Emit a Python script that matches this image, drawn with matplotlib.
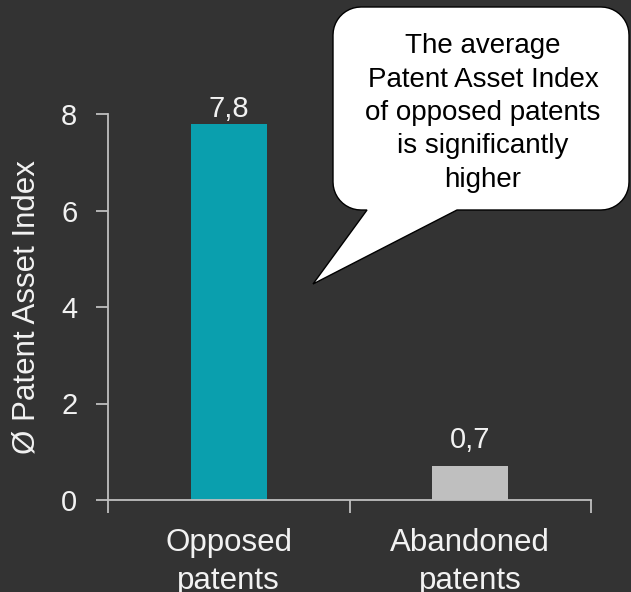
import numpy as np
import matplotlib
matplotlib.use("Agg")
import matplotlib.pyplot as plt
from matplotlib.path import Path
from matplotlib.patches import PathPatch

plt.rcParams['font.family'] = ['Liberation Sans', 'DejaVu Sans']

# data
categories = ["Opposed\npatents", "Abandoned\npatents"]
values = [7.8, 0.7]
value_labels = ["7,8", "0,7"]
bar_colors = ["#0A9FAE", "#BFBFBF"]
y_ticks = [0, 2, 4, 6, 8]
callout_text = "The average\nPatent Asset Index\nof opposed patents\nis significantly\nhigher"

W, H = 631, 592
bg = "#333333"
axis_col = "#BFBFBF"
txt_col = "#F2F2F2"

fig = plt.figure(figsize=(W / 100, H / 100), dpi=100, facecolor=bg)
ax = fig.add_axes([108 / W, 1 - 500 / H, (591 - 108) / W, (500 - 114) / H])
ax.set_facecolor(bg)

x = np.arange(len(values))
ax.bar(x, values, width=0.315, color=bar_colors, zorder=2)

# value labels, kept inside the plot area at the top
for xi, v, lab in zip(x, values, value_labels):
    ypos = min(v + 0.38, 7.93)
    ax.text(xi, ypos, lab, ha="center", va="baseline", fontsize=21, color=txt_col)

ax.set_xlim(-0.5, len(values) - 0.5)
ax.set_ylim(0, 8)
ax.set_yticks(y_ticks)
ax.set_yticklabels([str(t) for t in y_ticks])

# ticks at category boundaries, labels at centres
ax.set_xticks(np.arange(len(values) + 1) - 0.5)
ax.set_xticklabels([])
ax.set_xticks(x, minor=True)
ax.set_xticklabels(categories, minor=True, fontsize=22.5, color=txt_col, linespacing=1.35)
ax.tick_params(axis="x", which="minor", length=0, pad=20)
ax.tick_params(axis="x", which="major", length=9, width=1.3, color=axis_col, direction="out")
ax.tick_params(axis="y", length=9, width=1.3, color=axis_col, labelsize=21,
               labelcolor=txt_col, pad=13)

for s in ["top", "right"]:
    ax.spines[s].set_visible(False)
for s in ["left", "bottom"]:
    ax.spines[s].set_color(axis_col)
    ax.spines[s].set_linewidth(1.3)

ax.set_ylabel("Ø Patent Asset Index", fontsize=22.5, color=txt_col, labelpad=14)

# speech bubble in pixel coordinates of the image
x0, x1, y0, y1, r = 333, 629, 7, 210, 28
tail_a, tail_b, tip = 367, 457, (313, 284)


def arc(cx, cy, a0, a1, n=12):
    t = np.linspace(np.radians(a0), np.radians(a1), n)
    return [(cx + r * np.cos(t_), cy + r * np.sin(t_)) for t_ in t]


pts = []
# image coords: y down
pts += arc(x0 + r, y0 + r, 180, 270)          # top-left
pts += arc(x1 - r, y0 + r, 270, 360)          # top-right
pts += arc(x1 - r, y1 - r, 0, 90)             # bottom-right
pts += [(tail_b, y1), tip, (tail_a, y1)]      # tail
pts += arc(x0 + r, y1 - r, 90, 180)           # bottom-left
pts.append(pts[0])
verts = [(px / W, 1 - py / H) for px, py in pts]
codes = [Path.MOVETO] + [Path.LINETO] * (len(verts) - 2) + [Path.CLOSEPOLY]
bubble = PathPatch(Path(verts, codes), transform=fig.transFigure,
                   facecolor="white", edgecolor="black", linewidth=1.0, zorder=5)
fig.patches.append(bubble)
fig.text(483 / W, 1 - 113 / H, callout_text, ha="center", va="center",
         fontsize=20, color="black", linespacing=1.37, zorder=6)

fig.savefig("out.png", dpi=100, facecolor=bg)
